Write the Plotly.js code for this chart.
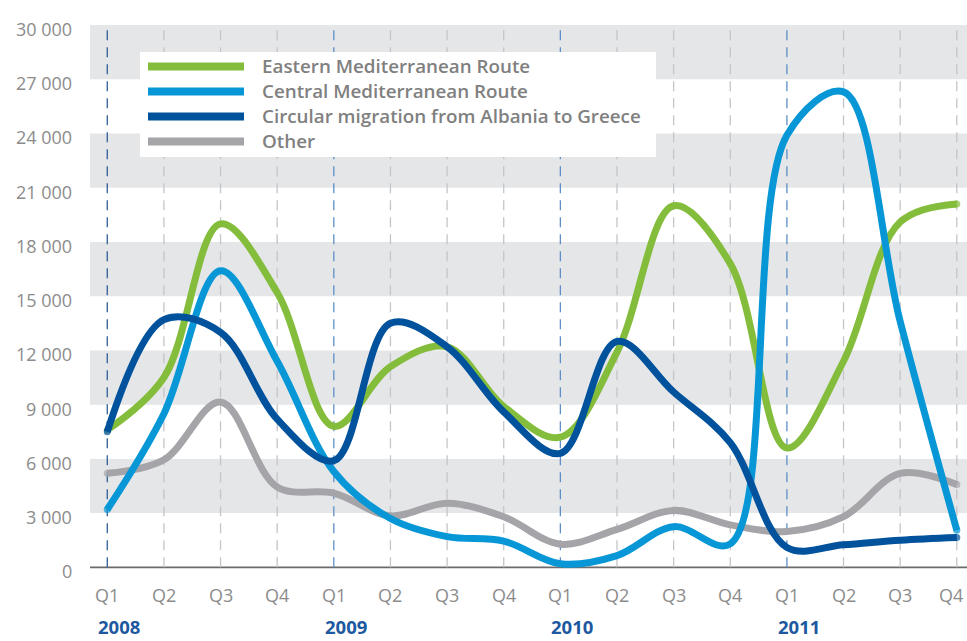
<!DOCTYPE html>
<html>
<head>
<meta charset="utf-8">
<script src="https://cdn.plot.ly/plotly-3.0.1.min.js"></script>
<style>
  html, body { margin: 0; padding: 0; background: #ffffff; }
  #chart { width: 967px; height: 641px; }
</style>
</head>
<body>
<div id="chart"></div>
<script>
// ---- Data ----
const quarterLabels = ['Q1','Q2','Q3','Q4','Q1','Q2','Q3','Q4','Q1','Q2','Q3','Q4','Q1','Q2','Q3','Q4'];
const years = ['2008', '2009', '2010', '2011'];
const seriesNames = [
  'Eastern Mediterranean Route',
  'Central Mediterranean Route',
  'Circular migration from Albania to Greece',
  'Other'
];
const eastern  = [7600, 10500, 19000, 15200, 7800, 11100, 12200, 8900, 7200, 11900, 20000, 16800, 6600, 11400, 19100, 20100];
const central  = [3200, 8500, 16400, 11400, 5300, 2700, 1700, 1450, 200, 650, 2250, 1300, 23900, 26300, 13600, 2050];
const circular = [7500, 13700, 13000, 8200, 5900, 13500, 12200, 8600, 6300, 12500, 9700, 6900, 1100, 1250, 1500, 1650];
const other    = [5200, 5950, 9150, 4450, 4100, 2850, 3550, 2800, 1280, 2100, 3150, 2350, 1980, 2800, 5200, 4580];
const yTickValues = [0, 3000, 6000, 9000, 12000, 15000, 18000, 21000, 24000, 27000, 30000];
const yTickLabels = ['0', '3 000', '6 000', '9 000', '12 000', '15 000', '18 000', '21 000', '24 000', '27 000', '30 000'];

// ---- Styles ----
const colors = ['#84bd3b', '#0797d7', '#00529c', '#a4a4a9'];
const seriesData = [eastern, central, circular, other];
const xIdx = quarterLabels.map((_, i) => i);
const lastIdx = xIdx.length - 1;
const FONT = 'Open Sans, sans-serif';
const tickColor = '#8c8c8c';

// draw order: gray bottom, green, light blue, dark blue on top
const drawOrder = [3, 0, 1, 2];
const traces = drawOrder.map(k => ({
  type: 'scatter',
  mode: 'lines+markers',
  x: xIdx,
  y: seriesData[k],
  name: seriesNames[k],
  line: { color: colors[k], width: 7, shape: 'spline', smoothing: 1 },
  marker: { color: colors[k], size: xIdx.map(i => (i === 0 || i === lastIdx) ? 7 : 0), line: { width: 0 } },
  cliponaxis: false,
  hoverinfo: 'skip',
  showlegend: false
}));

// ---- Geometry helpers (paper coords) ----
const W = 967, H = 641;
const M = { l: 90, r: 0, t: 25, b: 61 };
const plotW = W - M.l - M.r, plotH = H - M.t - M.b;
const px2paperX = px => (px - M.l) / plotW;
const py2paperY = py => (H - M.b - py) / plotH;

const shapes = [];
// alternating bands
for (let v = 3000; v < 30000; v += 6000) {
  shapes.push({ type: 'rect', layer: 'below', xref: 'paper', yref: 'y',
    x0: 0, x1: 1, y0: v, y1: v + 3000, fillcolor: '#e5e6e8', line: { width: 0 } });
}
// vertical dashed lines
xIdx.forEach(i => {
  const isQ1 = i % 4 === 0;
  shapes.push({ type: 'line', layer: 'below', xref: 'x', yref: 'y',
    x0: i, x1: i, y0: 0, y1: 30000,
    line: { color: isQ1 ? (i === 0 ? '#2e5e96' : '#5d8fc6') : '#c4c5c8', width: 1.3, dash: '10px,7px' } });
});
// zero line
shapes.push({ type: 'line', layer: 'below', xref: 'paper', yref: 'y',
  x0: 0, x1: 1, y0: 0, y1: 0, line: { color: '#6b6b6b', width: 1.8 } });

// legend box
shapes.push({ type: 'rect', layer: 'above', xref: 'paper', yref: 'paper',
  x0: px2paperX(140), x1: px2paperX(656), y0: py2paperY(157), y1: py2paperY(52),
  fillcolor: '#ffffff', line: { width: 0 } });

const annotations = [];
seriesNames.forEach((name, i) => {
  const py = 66.5 + 25 * i;
  shapes.push({ type: 'line', layer: 'above', xref: 'paper', yref: 'paper',
    x0: px2paperX(148), x1: px2paperX(244), y0: py2paperY(py), y1: py2paperY(py),
    line: { color: colors[i], width: 8 } });
  annotations.push({ xref: 'paper', yref: 'paper', x: px2paperX(260), y: py2paperY(py - 0.5),
    xanchor: 'left', yanchor: 'middle', showarrow: false, text: name,
    font: { family: FONT, size: 18.8, color: '#808080', weight: 600 } });
});
// y tick labels (slightly below their gridline, as in the reference)
yTickValues.forEach((v, i) => {
  annotations.push({ xref: 'paper', yref: 'y', x: 0, y: v, xanchor: 'right', yanchor: 'middle',
    xshift: -16, yshift: -4, showarrow: false, text: yTickLabels[i],
    font: { family: FONT, size: 18, color: tickColor, weight: 400 } });
});
// quarter labels
quarterLabels.forEach((q, i) => {
  annotations.push({ xref: 'x', yref: 'paper', x: i, y: py2paperY(595), xanchor: 'center', yanchor: 'middle',
    xshift: i === lastIdx ? -6 : 0, showarrow: false, text: q,
    font: { family: FONT, size: 18, color: tickColor, weight: 400 } });
});
// year labels
years.forEach((yr, j) => {
  annotations.push({ xref: 'x', yref: 'paper', x: j * 4, y: py2paperY(640), borderpad: 0,
    xanchor: 'left', yanchor: 'bottom', xshift: -10, showarrow: false, text: yr,
    font: { family: FONT, size: 18.5, color: '#1d59a0', weight: 700 } });
});

const layout = {
  width: W, height: H,
  margin: M,
  paper_bgcolor: '#ffffff',
  plot_bgcolor: '#ffffff',
  showlegend: false,
  xaxis: {
    range: [-0.305, 15.18],
    showticklabels: false,
    showgrid: false, zeroline: false, showline: false,
    ticks: '',
    fixedrange: true
  },
  yaxis: {
    range: [-700, 30000],
    showticklabels: false,
    showgrid: false, zeroline: false, showline: false,
    ticks: '',
    fixedrange: true
  },
  shapes: shapes,
  annotations: annotations
};

Plotly.newPlot('chart', traces, layout, { displayModeBar: false, staticPlot: true });
</script>
</body>
</html>
